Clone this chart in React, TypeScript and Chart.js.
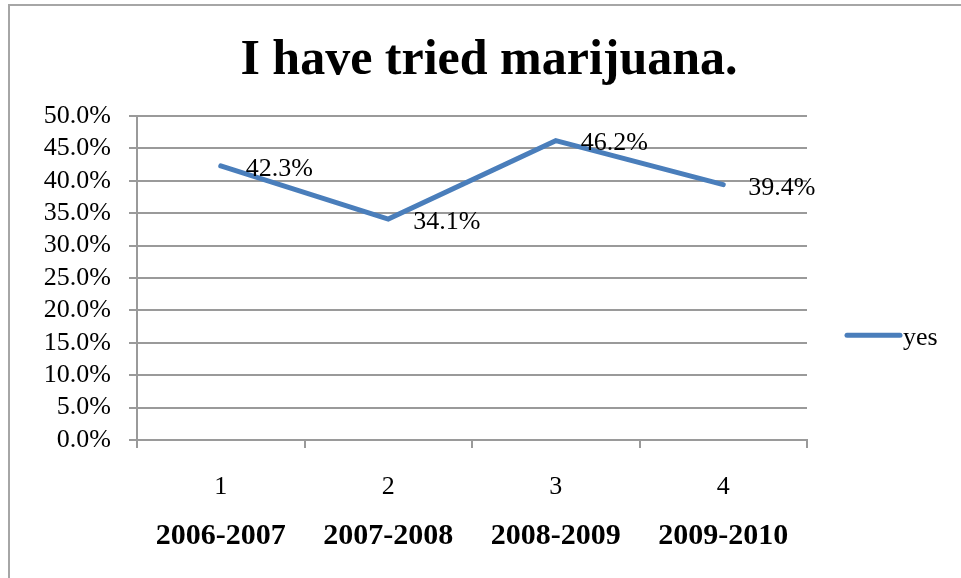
import React, { useEffect, useRef } from "react";
import { Chart, registerables } from "chart.js";

Chart.register(...registerables);

const categories = ["1", "2", "3", "4"];
const periods = ["2006-2007", "2007-2008", "2008-2009", "2009-2010"];
const yesValues = [42.3, 34.1, 46.2, 39.4];
const seriesLabel = "yes";
const titleText = "I have tried marijuana.";

const SERIF = "'Liberation Serif', 'Times New Roman', serif";
const LINE_COLOR = "#4a7ebb";
const GRID_COLOR = "#9a9a9a";
const TEXT_SIZE = 26;

const dataLabelPlugin = {
  id: "dataLabels",
  afterDatasetsDraw(chart: any) {
    const ctx = chart.ctx;
    chart.data.datasets.forEach((ds: any, di: number) => {
      const meta = chart.getDatasetMeta(di);
      meta.data.forEach((pt: any, i: number) => {
        ctx.save();
        ctx.font = `${TEXT_SIZE}px ${SERIF}`;
        ctx.fillStyle = "#000";
        ctx.textAlign = "left";
        ctx.textBaseline = "middle";
        ctx.fillText(ds.data[i].toFixed(1) + "%", pt.x + 25, pt.y + 3);
        ctx.restore();
      });
    });
  },
};

const legendPlugin = {
  id: "sideLegend",
  afterDraw(chart: any) {
    const ctx = chart.ctx;
    const ds = chart.data.datasets[0];
    const x0 = chart.chartArea.right + 40;
    const y = chart.height * 0.58;
    ctx.save();
    ctx.strokeStyle = ds.borderColor;
    ctx.lineWidth = ds.borderWidth;
    ctx.lineCap = "round";
    ctx.beginPath();
    ctx.moveTo(x0, y);
    ctx.lineTo(x0 + 53, y);
    ctx.stroke();
    ctx.font = `${TEXT_SIZE}px ${SERIF}`;
    ctx.fillStyle = "#000";
    ctx.textAlign = "left";
    ctx.textBaseline = "middle";
    ctx.fillText(ds.label, x0 + 56, y + 3);
    ctx.restore();
  },
};

export default function App() {
  const canvasRef = useRef<HTMLCanvasElement | null>(null);

  useEffect(() => {
    if (!canvasRef.current) return;
    const chart = new Chart(canvasRef.current, {
      type: "line",
      data: {
        labels: categories,
        datasets: [
          {
            label: seriesLabel,
            data: yesValues,
            borderColor: LINE_COLOR,
            backgroundColor: LINE_COLOR,
            borderWidth: 5,
            pointRadius: 0,
            pointHoverRadius: 0,
            tension: 0,
            borderCapStyle: "round",
            borderJoinStyle: "miter",
            fill: false,
            yAxisID: "y",
            xAxisID: "x",
          },
        ],
      },
      options: {
        responsive: false,
        animation: false,
        devicePixelRatio: 1,
        layout: { padding: { left: 17, right: 0, top: 0, bottom: 27 } },
        plugins: {
          legend: { display: false },
          tooltip: { enabled: false },
          title: {
            display: true,
            text: titleText,
            color: "#000",
            font: { family: SERIF, size: 50, weight: "bold", lineHeight: 1.2 },
            padding: { top: 31, bottom: 25 },
          },
        },
        scales: {
          x: {
            type: "category",
            labels: categories,
            offset: true,
            position: "bottom",
            afterFit(scale: any) {
              scale.height = 62;
            },
            grid: {
              offset: true,
              drawOnChartArea: false,
              drawTicks: true,
              tickLength: 8,
              color: GRID_COLOR,
              lineWidth: 2,
            },
            border: { display: true, color: GRID_COLOR, width: 2 },
            ticks: {
              color: "#000",
              font: { family: SERIF, size: TEXT_SIZE, lineHeight: 1.2 },
              padding: 24,
              maxRotation: 0,
              autoSkip: false,
            },
          },
          x2: {
            type: "category",
            labels: periods,
            offset: true,
            position: "bottom",
            afterFit(scale: any) {
              scale.height = 49;
            },
            grid: { display: false, drawTicks: false },
            border: { display: false },
            ticks: {
              color: "#000",
              font: { family: SERIF, size: 30, weight: "bold", lineHeight: 1.2 },
              padding: 16,
              maxRotation: 0,
              autoSkip: false,
            },
          },
          y: {
            min: 0,
            max: 50,
            position: "left",
            afterFit(scale: any) {
              scale.width = 120;
            },
            grid: {
              color: GRID_COLOR,
              lineWidth: 2,
              tickLength: 8,
            },
            border: { display: true, color: GRID_COLOR, width: 2 },
            ticks: {
              stepSize: 5,
              autoSkip: false,
              color: "#000",
              font: { family: SERIF, size: TEXT_SIZE, lineHeight: 1.2 },
              padding: 18,
              callback: (v: any) => Number(v).toFixed(1) + "%",
            },
          },
          yRightSpace: {
            type: "linear",
            position: "right",
            min: 0,
            max: 50,
            afterFit(scale: any) {
              scale.width = 154;
            },
            grid: { display: false, drawTicks: false },
            border: { display: false },
            ticks: { display: false },
          },
        },
      },
      plugins: [dataLabelPlugin, legendPlugin],
    } as any);
    return () => chart.destroy();
  }, []);

  return (
    <div
      style={{
        position: "fixed",
        left: 0,
        top: 0,
        width: 961,
        height: 578,
        background: "#fff",
        overflow: "hidden",
      }}
    >
      <div
        style={{
          position: "absolute",
          left: 8,
          top: 4,
          width: 1000,
          height: 700,
          borderTop: "2px solid #a6a6a6",
          borderLeft: "2px solid #a6a6a6",
        }}
      />
      <canvas
        ref={canvasRef}
        width={961}
        height={578}
        style={{ position: "absolute", left: 0, top: 0, width: 961, height: 578 }}
      />
    </div>
  );
}
